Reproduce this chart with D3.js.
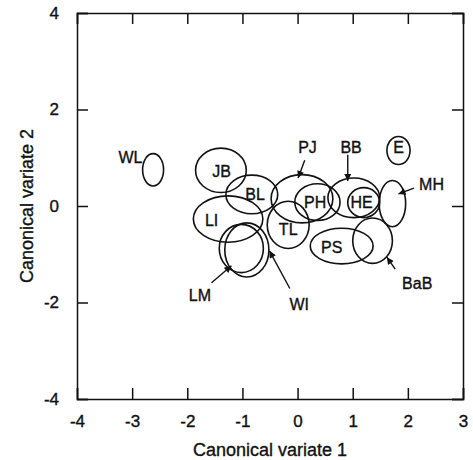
<!DOCTYPE html>
<html>
<head>
<meta charset="utf-8">
<script src="https://cdn.jsdelivr.net/npm/d3@7"></script>
<style>
  body { margin: 0; background: #fff; }
  text { font-family: "Liberation Sans", Arial, sans-serif; fill: #111; stroke: #111; stroke-width: 0.35px; }
</style>
</head>
<body>
<script>
// group ellipses (canonical variate space)
var groups  = ["WL", "JB", "BL", "LI", "LM", "WI", "TL", "PJ", "PH", "BB", "HE", "MH", "E", "PS", "BaB"];
var centerX = [-2.62, -1.39, -0.83, -1.26, -1.02, -0.92, -0.17, 0.08, 0.36, 1.02, 1.20, 1.72, 1.83, 0.80, 1.36];
var centerY = [0.75, 0.74, 0.24, -0.27, -0.88, -0.91, -0.39, 0.15, 0.08, 0.17, 0.07, 0.05, 1.15, -0.83, -0.72];
var radiusX = [0.19, 0.46, 0.47, 0.63, 0.40, 0.40, 0.38, 0.56, 0.41, 0.47, 0.29, 0.24, 0.21, 0.57, 0.36];
var radiusY = [0.335, 0.46, 0.40, 0.48, 0.50, 0.56, 0.49, 0.50, 0.38, 0.41, 0.31, 0.48, 0.29, 0.37, 0.47];

// label positions (text centre)
var labelX = [-3.03, -1.38, -0.77, -1.56, -1.77, 0.03, -0.17, 0.18, 0.32, 0.97, 1.16, 2.43, 1.83, 0.62, 2.17];
var labelY = [1.02, 0.73, 0.24, -0.30, -1.84, -2.04, -0.48, 1.21, 0.07, 1.21, 0.07, 0.46, 1.22, -0.85, -1.61];

// pointer arrows: from label towards ellipse
var arrowFor = ["PJ", "BB", "MH", "LM", "WI", "BaB"];
var arrowX1 = [0.13, 0.91, 2.11, -1.56, -0.14, 1.77];
var arrowY1 = [0.95, 1.06, 0.37, -1.59, -1.71, -1.31];
var arrowX2 = [0.01, 0.91, 1.83, -1.20, -0.51, 1.62];
var arrowY2 = [0.58, 0.52, 0.25, -1.24, -0.93, -1.06];

var xTicks = [-4, -3, -2, -1, 0, 1, 2, 3];
var yTicks = [-4, -2, 0, 2, 4];

var W = 473, H = 460;
var margin = {top: 13, left: 77};
var pw = 386, ph = 386;

var svg = d3.select("body").append("svg")
    .attr("width", W)
    .attr("height", H);

var x = d3.scaleLinear().domain([-4, 3]).range([0, pw]);
var y = d3.scaleLinear().domain([-4, 4]).range([ph, 0]);

var g = svg.append("g")
    .attr("transform", "translate(" + margin.left + "," + margin.top + ")");

var tickLen = 11;
var fmt = function(d) { return String(d); };   // plain hyphen minus like the original

// axes with inward ticks
var axB = g.append("g").attr("transform", "translate(0," + ph + ")")
    .call(d3.axisBottom(x).tickValues(xTicks).tickSize(-tickLen).tickPadding(tickLen + 5).tickFormat(fmt));
var axL = g.append("g")
    .call(d3.axisLeft(y).tickValues(yTicks).tickSize(-tickLen).tickPadding(tickLen + 7).tickFormat(fmt));
var axT = g.append("g")
    .call(d3.axisTop(x).tickValues(xTicks).tickSize(-tickLen).tickFormat(""));
var axR = g.append("g").attr("transform", "translate(" + pw + ",0)")
    .call(d3.axisRight(y).tickValues(yTicks).tickSize(-tickLen).tickFormat(""));

[axB, axL, axT, axR].forEach(function(a) {
    a.select(".domain").attr("stroke", "#111").attr("stroke-width", 1.5);
    a.selectAll(".tick line").attr("stroke", "#111").attr("stroke-width", 1.5);
    a.selectAll(".tick text").attr("font-size", 17).attr("fill", "#111")
        .attr("font-family", "Liberation Sans, Arial, sans-serif");
});

// ellipses
var rows = groups.map(function(name, i) {
    return {name: name, cx: centerX[i], cy: centerY[i], rx: radiusX[i], ry: radiusY[i],
            lx: labelX[i], ly: labelY[i]};
});

g.selectAll("ellipse.grp")
    .data(rows)
  .enter().append("ellipse")
    .attr("class", "grp")
    .attr("cx", function(d) { return x(d.cx); })
    .attr("cy", function(d) { return y(d.cy); })
    .attr("rx", function(d) { return x(d.cx + d.rx) - x(d.cx); })
    .attr("ry", function(d) { return y(d.cy) - y(d.cy + d.ry); })
    .attr("fill", "none")
    .attr("stroke", "#111")
    .attr("stroke-width", 1.6);

g.selectAll("text.lbl")
    .data(rows)
  .enter().append("text")
    .attr("class", "lbl")
    .attr("x", function(d) { return x(d.lx); })
    .attr("y", function(d) { return y(d.ly); })
    .attr("dy", "0.36em")
    .attr("text-anchor", "middle")
    .attr("font-size", 16)
    .text(function(d) { return d.name; });

// arrows
svg.append("defs").append("marker")
    .attr("id", "head")
    .attr("viewBox", "0 0 10 10")
    .attr("refX", 10).attr("refY", 5)
    .attr("markerWidth", 9).attr("markerHeight", 7)
    .attr("markerUnits", "userSpaceOnUse")
    .attr("orient", "auto")
  .append("path")
    .attr("d", "M0,0 L10,5 L0,10 z")
    .attr("fill", "#111");

var arrows = arrowFor.map(function(n, i) {
    return {x1: arrowX1[i], y1: arrowY1[i], x2: arrowX2[i], y2: arrowY2[i]};
});

g.selectAll("line.arrow")
    .data(arrows)
  .enter().append("line")
    .attr("class", "arrow")
    .attr("x1", function(d) { return x(d.x1); })
    .attr("y1", function(d) { return y(d.y1); })
    .attr("x2", function(d) { return x(d.x2); })
    .attr("y2", function(d) { return y(d.y2); })
    .attr("stroke", "#111")
    .attr("stroke-width", 1.4)
    .attr("marker-end", "url(#head)");

// axis titles
svg.append("text")
    .attr("x", margin.left + pw / 2)
    .attr("y", 456)
    .attr("text-anchor", "middle")
    .attr("font-size", 18)
    .text("Canonical variate 1");

svg.append("text")
    .attr("transform", "translate(33," + (margin.top + ph / 2) + ") rotate(-90)")
    .attr("text-anchor", "middle")
    .attr("font-size", 18)
    .text("Canonical variate 2");
</script>
</body>
</html>
